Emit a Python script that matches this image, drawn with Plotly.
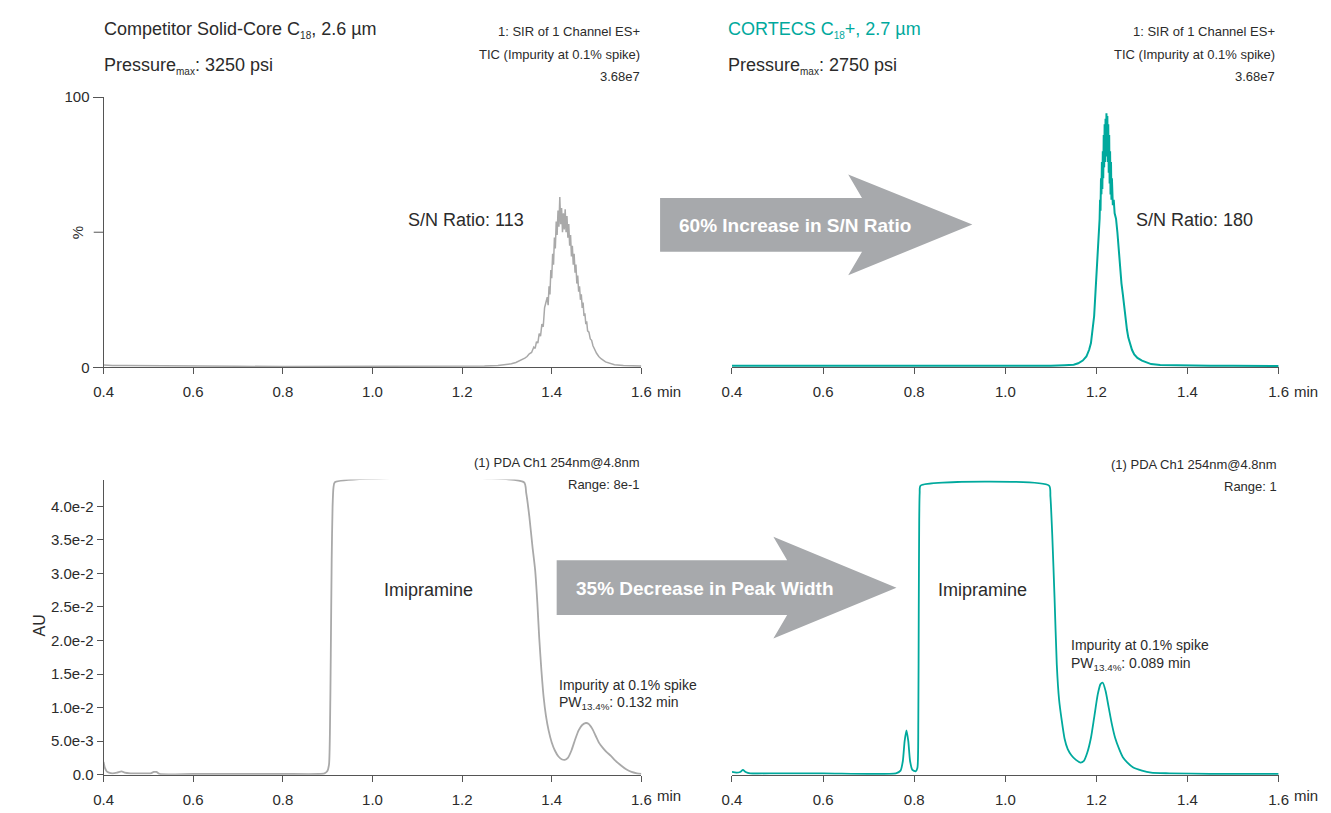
import plotly.graph_objects as go

# ---------------- data ----------------
# Top-left: competitor solid-core C18, TIC (% of 3.68e7)
comp_tic_t = [0.400, 0.420, 0.450, 0.500, 0.560, 0.600, 0.700, 0.800, 0.900, 1.000, 1.100, 1.200,
              1.250, 1.280, 1.300, 1.310, 1.320, 1.330, 1.340, 1.345, 1.350, 1.355, 1.360, 1.363,
              1.366, 1.369, 1.372, 1.375, 1.378, 1.381, 1.384, 1.387, 1.390, 1.392, 1.394, 1.396,
              1.398, 1.400, 1.402, 1.404, 1.406, 1.408, 1.410, 1.412, 1.414, 1.416, 1.418, 1.420,
              1.422, 1.424, 1.426, 1.428, 1.430, 1.432, 1.434, 1.436, 1.438, 1.440, 1.442, 1.444,
              1.446, 1.448, 1.450, 1.452, 1.454, 1.456, 1.458, 1.460, 1.462, 1.464, 1.466, 1.468,
              1.470, 1.472, 1.474, 1.476, 1.478, 1.480, 1.483, 1.486, 1.489, 1.492, 1.496, 1.500,
              1.505, 1.510, 1.520, 1.530, 1.540, 1.560, 1.580, 1.600]
comp_tic_pct = [0.9, 0.7, 0.7, 0.6, 0.6, 0.4, 0.4, 0.3, 0.3, 0.3, 0.3, 0.4,
                0.5, 0.7, 1.0, 1.3, 1.8, 2.5, 3.4, 4.0, 5.0, 5.5, 7.5, 7.0,
                9.5, 9.0, 12.5, 11.5, 16, 15, 22, 24, 26, 23, 30, 27,
                36, 33, 42, 38, 48, 44, 54, 49, 58, 52, 63, 53,
                59, 50, 57, 51, 58.5, 50, 56, 48, 53, 45, 49, 41,
                45, 38, 42, 35, 38, 31, 34, 28, 30, 25, 27, 22,
                24, 19, 20, 16, 17, 13.5, 13, 10.5, 10, 8, 6.5, 5.2,
                4.0, 3.2, 2.0, 1.4, 1.0, 0.7, 0.5, 0.5]

# Top-right: CORTECS C18+, TIC (% of 3.68e7)
cortecs_tic_t = [0.400, 0.500, 0.600, 0.700, 0.800, 0.900, 1.000, 1.100, 1.130, 1.150, 1.160, 1.170,
                 1.178, 1.184, 1.188, 1.192, 1.195, 1.198, 1.200, 1.202, 1.204, 1.206, 1.207, 1.208,
                 1.209, 1.210, 1.211, 1.212, 1.213, 1.214, 1.215, 1.216, 1.217, 1.218, 1.219, 1.220,
                 1.221, 1.222, 1.223, 1.224, 1.225, 1.226, 1.227, 1.228, 1.229, 1.230, 1.231, 1.232,
                 1.233, 1.234, 1.236, 1.238, 1.240, 1.243, 1.246, 1.249, 1.252, 1.255, 1.258, 1.261,
                 1.264, 1.267, 1.270, 1.274, 1.278, 1.283, 1.290, 1.300, 1.310, 1.320, 1.340, 1.380,
                 1.450, 1.500, 1.600]
cortecs_tic_pct = [0.6, 0.6, 0.5, 0.5, 0.5, 0.5, 0.5, 0.6, 0.8, 1.0, 1.5, 2.5,
                   4, 6.5, 9, 14, 19, 28, 34, 38, 42, 48, 55, 62,
                   58, 70, 64, 76, 66, 80, 70, 86, 74, 90, 76, 92,
                   78, 94, 80, 93, 76, 90, 72, 86, 68, 80, 64, 76,
                   62, 70, 60, 62, 57, 55, 50, 43, 37, 31, 27, 22,
                   18, 14, 11, 8.5, 6.5, 4.8, 3.5, 2.5, 1.7, 1.2, 0.9, 0.7,
                   0.6, 0.6, 0.5]

# Bottom-left: competitor, PDA 254 nm (AU)
comp_uv_t = [0.400, 0.403, 0.407, 0.412, 0.420, 0.430, 0.440, 0.447, 0.460, 0.490, 0.505, 0.512,
             0.518, 0.525, 0.600, 0.700, 0.800, 0.880, 0.893, 0.899, 0.903, 0.905, 0.907, 0.909,
             0.911, 0.913, 0.916, 1.338, 1.343, 1.350, 1.357, 1.363, 1.368, 1.372, 1.377, 1.382,
             1.387, 1.393, 1.400, 1.407, 1.415, 1.422, 1.429, 1.436, 1.444, 1.452, 1.460, 1.468,
             1.476, 1.482, 1.490, 1.498, 1.506, 1.514, 1.522, 1.532, 1.542, 1.554, 1.566, 1.578,
             1.590, 1.600]
comp_uv_au = [0.0019, 0.0010, 0.0005, 0.0003, 0.0002, 0.0003, 0.0005, 0.0003, 0.0002, 0.0002, 0.0002, 0.0004,
              0.0004, 0.0001, 0.0001, 0.0001, 0.0001, 0.0001, 0.0002, 0.0005, 0.0015, 0.0060, 0.0180, 0.0320,
              0.0400, 0.0428, 0.0436, 0.0436, 0.0420, 0.0385, 0.0340, 0.0305, 0.0255, 0.0205, 0.0155, 0.0115,
              0.0088, 0.0066, 0.0048, 0.0036, 0.0027, 0.0023, 0.0022, 0.0025, 0.0036, 0.0052, 0.0066, 0.0074,
              0.0077, 0.0076, 0.0069, 0.0058, 0.0047, 0.0040, 0.0034, 0.0028, 0.0021, 0.0014, 0.0008, 0.0004,
              0.0002, 0.0001]

# Bottom-right: CORTECS, PDA 254 nm (AU)
cortecs_uv_t = [0.400, 0.410, 0.418, 0.424, 0.430, 0.440, 0.500, 0.600, 0.700, 0.760, 0.770, 0.775,
                0.779, 0.783, 0.787, 0.791, 0.796, 0.803, 0.807, 0.809, 0.810, 0.811, 0.812, 0.814,
                1.096, 1.099, 1.103, 1.108, 1.113, 1.118, 1.124, 1.130, 1.137, 1.145, 1.155, 1.165,
                1.172, 1.180, 1.188, 1.195, 1.203, 1.209, 1.214, 1.220, 1.227, 1.234, 1.241, 1.250,
                1.258, 1.268, 1.280, 1.300, 1.320, 1.360, 1.450, 1.600]
cortecs_uv_au = [0.0004, 0.0003, 0.0004, 0.0007, 0.0004, 0.0002, 0.0002, 0.0002, 0.0001, 0.0002, 0.0006, 0.0020,
                 0.0050, 0.0066, 0.0050, 0.0020, 0.0007, 0.0005, 0.0010, 0.0080, 0.0250, 0.0380, 0.0420, 0.0431,
                 0.0431, 0.0415, 0.0358, 0.0265, 0.0164, 0.0112, 0.0080, 0.0054, 0.0038, 0.0029, 0.0022, 0.0018,
                 0.0020, 0.0033, 0.0055, 0.0085, 0.0120, 0.0135, 0.0137, 0.0125, 0.0100, 0.0075, 0.0055, 0.0038,
                 0.0026, 0.0018, 0.0011, 0.0006, 0.0003, 0.0002, 0.0001, 0.0001]

x_tick_vals = [0.4, 0.6, 0.8, 1.0, 1.2, 1.4, 1.6]
x_tick_text = ["0.4", "0.6", "0.8", "1.0", "1.2", "1.4", "1.6"]
pct_tick_vals = [0, 100]
pct_tick_text = ["0", "100"]
au_tick_vals = [0.0, 0.005, 0.010, 0.015, 0.020, 0.025, 0.030, 0.035, 0.040]
au_tick_text = ["0.0", "5.0e-3", "1.0e-2", "1.5e-2", "2.0e-2", "2.5e-2", "3.0e-2", "3.5e-2", "4.0e-2"]

# ---------------- styling / layout ----------------
W, H = 1331, 813
def px(x):
    return x / W
def py(y):
    return 1 - y / H

TEAL = "#00a99d"
GRAY = "#a9a9a9"
ARROW = "#a7a9ac"
TXT = "#2b2b2b"
AXC = "#555555"
FONT = "Liberation Sans, Arial, Helvetica, sans-serif"

fig = go.Figure()
fig.add_trace(go.Scatter(x=comp_tic_t, y=comp_tic_pct, mode="lines",
                         line=dict(color=GRAY, width=1.5), xaxis="x", yaxis="y",
                         showlegend=False, hoverinfo="skip"))
fig.add_trace(go.Scatter(x=cortecs_tic_t, y=cortecs_tic_pct, mode="lines",
                         line=dict(color=TEAL, width=2), xaxis="x2", yaxis="y2",
                         showlegend=False, hoverinfo="skip"))
fig.add_trace(go.Scatter(x=comp_uv_t, y=comp_uv_au, mode="lines",
                         line=dict(color=GRAY, width=1.8, shape="spline", smoothing=0.6),
                         xaxis="x3", yaxis="y3", showlegend=False, hoverinfo="skip"))
fig.add_trace(go.Scatter(x=cortecs_uv_t, y=cortecs_uv_au, mode="lines",
                         line=dict(color=TEAL, width=1.8, shape="spline", smoothing=0.6),
                         xaxis="x4", yaxis="y4", showlegend=False, hoverinfo="skip"))

def xax(domain, anchor):
    return dict(domain=domain, anchor=anchor, range=[0.4, 1.6], tickmode="array",
                tickvals=x_tick_vals, ticktext=x_tick_text, ticks="outside", ticklen=6,
                tickcolor=AXC, showline=True, linecolor=AXC, linewidth=1, showgrid=False,
                zeroline=False, tickfont=dict(size=15, color=TXT, family=FONT),
                ticklabelstandoff=5, fixedrange=True)

AU_TOP = 0.0440
XL = [px(95), px(641)]
XR = [px(733), px(1288)]
YT = [py(366), py(90)]
YB = [py(782), py(782 - AU_TOP * 6850)]

fig.update_layout(
    width=W, height=H, autosize=False,
    margin=dict(l=0, r=0, t=0, b=0),
    paper_bgcolor="white", plot_bgcolor="rgba(0,0,0,0)",
    font=dict(family=FONT, color=TXT),
    xaxis=xax(XL, "y"),
    xaxis2=xax(XR, "y2"),
    xaxis3=xax(XL, "y3"),
    xaxis4=xax(XR, "y4"),
    yaxis=dict(domain=YT, anchor="x", range=[0, 100], tickmode="array",
               tickvals=pct_tick_vals, ticktext=pct_tick_text, ticks="outside", ticklen=10,
               tickcolor=AXC, showline=True, linecolor=AXC, linewidth=1, showgrid=False,
               zeroline=False, tickfont=dict(size=15, color=TXT, family=FONT), fixedrange=True),
    yaxis2=dict(domain=YT, anchor="x2", range=[0, 100], visible=False, fixedrange=True),
    yaxis3=dict(domain=YB, anchor="x3", range=[0, AU_TOP], tickmode="array",
                tickvals=au_tick_vals, ticktext=au_tick_text, ticks="outside", ticklen=6,
                tickcolor=AXC, showline=True, linecolor=AXC, linewidth=1, showgrid=False,
                zeroline=False, tickfont=dict(size=15, color=TXT, family=FONT), fixedrange=True),
    yaxis4=dict(domain=YB, anchor="x4", range=[0, AU_TOP], visible=False, fixedrange=True),
)

def path(points):
    return "M " + " L ".join(f"{px(x):.5f},{py(y):.5f}" for x, y in points) + " Z"

arrow1 = [(660, 193), (865, 193), (851, 169), (977, 220), (851, 272), (865, 248), (660, 248)]
arrow2 = [(555, 563), (789, 563), (775, 539), (900, 591), (775, 643), (789, 619), (555, 619)]
fig.add_shape(type="path", xref="paper", yref="paper", path=path(arrow1),
              fillcolor=ARROW, line=dict(width=0), layer="below")
fig.add_shape(type="path", xref="paper", yref="paper", path=path(arrow2),
              fillcolor=ARROW, line=dict(width=0), layer="below")
# middle tick of the % axis (its label is the axis title)
fig.add_shape(type="line", xref="paper", yref="paper", x0=px(85), x1=px(95),
              y0=py(228), y1=py(228), line=dict(color=AXC, width=1))

anns = []
def ann(text, x, y, size, xanchor="left", color=TXT, angle=0):
    anns.append(dict(text=text, x=px(x), y=py(y), xref="paper", yref="paper",
                     xanchor=xanchor, yanchor="middle", showarrow=False, textangle=angle,
                     font=dict(size=size, color=color, family=FONT)))

SUB = "<sub><span style='font-size:10px'>{}</span></sub>"
ann("Competitor Solid-Core C" + SUB.format("18") + ", 2.6 µm", 93, 21, 18)
ann("Pressure" + SUB.format("max") + ": 3250 psi", 93, 58, 18)
ann("1: SIR of 1 Channel ES+", 642, 23, 13, "right")
ann("TIC (Impurity at 0.1% spike)", 642, 46, 13, "right")
ann("3.68e7", 642, 69, 13, "right")

ann("CORTECS C" + SUB.format("18") + "+, 2.7 µm", 727, 21, 18, color=TEAL)
ann("Pressure" + SUB.format("max") + ": 2750 psi", 727, 58, 18)
ann("1: SIR of 1 Channel ES+", 1286, 23, 13, "right")
ann("TIC (Impurity at 0.1% spike)", 1286, 46, 13, "right")
ann("3.68e7", 1286, 69, 13, "right")

ann("%", 68, 228, 15, "center", angle=-90)
ann("AU", 30, 630, 16, "center", angle=-90)

ann("S/N Ratio: 113", 463, 215, 18, "center")
ann("S/N Ratio: 180", 1203, 215, 18, "center")
ann("<b>60% Increase in S/N Ratio</b>", 797, 221, 19, "center", color="white")
ann("<b>35% Decrease in Peak Width</b>", 706, 592, 19, "center", color="white")

ann("Imipramine", 425, 593, 18, "center")
ann("Imipramine", 987, 593, 18, "center")
ann("Impurity at 0.1% spike", 555, 690, 14)
ann("PW<sub>13.4%</sub>: 0.132 min", 555, 709, 14)
ann("Impurity at 0.1% spike", 1075, 650, 14)
ann("PW<sub>13.4%</sub>: 0.089 min", 1075, 669, 14)

ann("(1) PDA Ch1 254nm@4.8nm", 642, 463, 13, "right")
ann("Range: 8e-1", 642, 486, 13, "right")
ann("(1) PDA Ch1 254nm@4.8nm", 1288, 465, 13, "right")
ann("Range: 1", 1288, 488, 13, "right")

# "min" unit after the last x tick label
ann("min", 655, 391, 15)
ann("min", 1302, 391, 15)
ann("min", 655, 803, 15)
ann("min", 1302, 803, 15)

fig.update_layout(annotations=anns)
fig.write_html("out.html")
